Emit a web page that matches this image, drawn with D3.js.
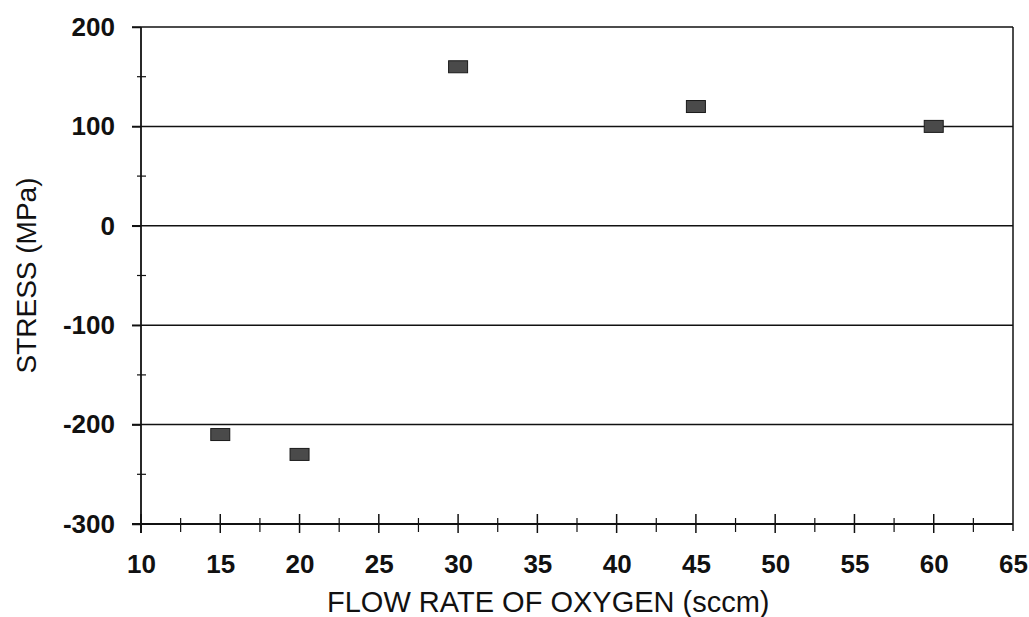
<!DOCTYPE html>
<html><head><meta charset="utf-8">
<script src="https://cdn.jsdelivr.net/npm/d3@7"></script>
<style>body{margin:0;background:#fff}svg{display:block}</style>
</head><body><svg id="c" width="1029" height="617"></svg>
<script>
const flowRate = [15, 20, 30, 45, 60];
const stress = [-210, -230, 160, 120, 100];
const xTicks = [10, 15, 20, 25, 30, 35, 40, 45, 50, 55, 60, 65];
const yTicks = [-300, -200, -100, 0, 100, 200];

const svg = d3.select("#c");
const L = 141, R = 1013, T = 27, B = 524;
const x = d3.scaleLinear().domain([10, 65]).range([L, R]);
const y = d3.scaleLinear().domain([-300, 200]).range([B, T]);
const font = "Liberation Sans, Arial, sans-serif";
const ink = "#111";

// gridlines (with tick stub on the left)
svg.append("g").selectAll("line").data(yTicks.filter(d => d > -300))
  .join("line").attr("x1", L - 9).attr("x2", R)
  .attr("y1", d => y(d)).attr("y2", d => y(d))
  .attr("stroke", ink).attr("stroke-width", 1.5);
// right border
svg.append("line").attr("x1", R).attr("x2", R).attr("y1", T).attr("y2", B + 7)
  .attr("stroke", ink).attr("stroke-width", 1.5);

// x axis
const xMinor = d3.range(12.5, 65, 5);
const xa = svg.append("g").attr("transform", `translate(0,${B})`)
  .call(d3.axisBottom(x).tickValues(xTicks).tickSize(0).tickPadding(31).tickFormat(d => String(d)));
xa.select(".domain").remove();
svg.append("line").attr("x1", L - 9).attr("x2", R).attr("y1", B).attr("y2", B)
  .attr("stroke", ink).attr("stroke-width", 1.8);
xa.selectAll("text").attr("font-family", font).attr("font-size", 26).attr("font-weight", "bold").attr("fill", ink);
svg.append("g").selectAll("line").data(xTicks.slice(0, -1)).join("line")
  .attr("x1", d => x(d)).attr("x2", d => x(d)).attr("y1", B - 10).attr("y2", B + 9)
  .attr("stroke", ink).attr("stroke-width", 1.5);
svg.append("g").selectAll("line").data(xMinor).join("line")
  .attr("x1", d => x(d)).attr("x2", d => x(d)).attr("y1", B - 6).attr("y2", B + 8)
  .attr("stroke", ink).attr("stroke-width", 1.2);

// y axis
const ya = svg.append("g").attr("transform", `translate(${L},0)`)
  .call(d3.axisLeft(y).tickValues(yTicks).tickSize(9).tickPadding(17).tickFormat(d => String(d)));
ya.select(".domain").remove();
svg.append("line").attr("x1", L).attr("x2", L).attr("y1", T).attr("y2", B + 9)
  .attr("stroke", ink).attr("stroke-width", 1.8);
ya.selectAll(".tick line").attr("stroke", ink).attr("stroke-width", 1.5);
ya.selectAll("text").attr("font-family", font).attr("font-size", 26).attr("font-weight", "bold").attr("fill", ink);
svg.append("g").selectAll("line").data(d3.range(-250, 200, 100)).join("line")
  .attr("x1", L - 4).attr("x2", L + 5).attr("y1", d => y(d)).attr("y2", d => y(d))
  .attr("stroke", ink).attr("stroke-width", 1.2);

// titles
svg.append("text").attr("x", 327).attr("y", 612).attr("text-anchor", "start")
  .attr("font-family", font).attr("font-size", 29).attr("fill", ink)
  .text("FLOW RATE OF OXYGEN (sccm)");
svg.append("text").attr("transform", `translate(36,${(T + B) / 2}) rotate(-90)`)
  .attr("text-anchor", "middle").attr("font-family", font).attr("font-size", 28).attr("fill", ink)
  .text("STRESS (MPa)");

// points
svg.append("g").selectAll("rect").data(flowRate.map((f, i) => [f, stress[i]])).join("rect")
  .attr("x", d => x(d[0]) - 9.5).attr("y", d => y(d[1]) - 6)
  .attr("width", 19).attr("height", 12)
  .attr("fill", "#4a4a4a").attr("stroke", "#1a1a1a").attr("stroke-width", 1);
</script></body></html>
